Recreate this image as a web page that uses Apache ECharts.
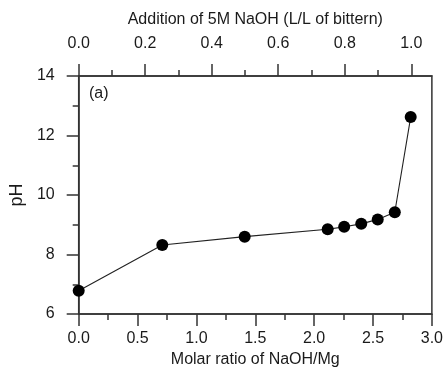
<!DOCTYPE html>
<html>
<head>
<meta charset="utf-8">
<script src="https://cdn.jsdelivr.net/npm/echarts@6/dist/echarts.min.js"></script>
<style>
html,body{margin:0;padding:0;background:#fff;}
#chart{width:446px;height:376px;}
</style>
</head>
<body>
<div id="chart"></div>
<script>
// Data
var molarRatio = [0.0, 0.71, 1.41, 2.115, 2.255, 2.40, 2.54, 2.685, 2.82];
var phValues   = [6.78, 8.32, 8.60, 8.85, 8.93, 9.03, 9.18, 9.42, 12.62];
var topMajorTicks = [0.0, 0.2, 0.4, 0.6, 0.8, 1.0];
var topMinorTicks = [0.1, 0.3, 0.5, 0.7, 0.9];
var topAxisMax = 1.062;

var points = molarRatio.map(function (x, i) { return [x, phValues[i]]; });

var textColor = '#1a1a1a';
var axisColor = '#333';
var font = 'Liberation Sans, Arial, sans-serif';

var chart = echarts.init(document.getElementById('chart'), null, {renderer: 'canvas'});
chart.setOption({
  animation: false,
  backgroundColor: '#fff',
  title: {
    text: '(a)', left: 84, top: 81,
    textStyle: {fontSize: 16, fontWeight: 'normal', color: textColor, fontFamily: font}
  },
  grid: {
    left: 78, right: 13, top: 76, bottom: 62,
    show: true, borderColor: axisColor, borderWidth: 1.5, backgroundColor: 'transparent'
  },
  xAxis: [
    {
      type: 'value', position: 'bottom', min: 0, max: 3, interval: 0.5,
      name: 'Molar ratio of NaOH/Mg', nameLocation: 'middle', nameGap: 30,
      nameTextStyle: {fontSize: 16, color: textColor, fontFamily: font},
      axisLine: {show: true, lineStyle: {color: axisColor, width: 1.5}},
      axisTick: {show: true, length: 12, lineStyle: {color: axisColor, width: 1.5}},
      minorTick: {show: true, splitNumber: 2, length: 6, lineStyle: {color: axisColor, width: 1.5}},
      axisLabel: {margin: 17, fontSize: 16, color: textColor, fontFamily: font,
        formatter: function (v) { return v.toFixed(1); }},
      splitLine: {show: false}
    },
    {
      type: 'value', position: 'top', min: 0, max: topAxisMax,
      name: 'Addition of 5M NaOH (L/L of bittern)', nameLocation: 'middle', nameGap: 48,
      nameTextStyle: {fontSize: 16, color: textColor, fontFamily: font},
      axisLine: {show: true, lineStyle: {color: axisColor, width: 1.5}},
      axisTick: {show: true, length: 12, customValues: topMajorTicks, lineStyle: {color: axisColor, width: 1.5}},
      axisLabel: {margin: 24, fontSize: 16, color: textColor, fontFamily: font, customValues: topMajorTicks,
        formatter: function (v) { return Number(v).toFixed(1); }},
      splitLine: {show: false}
    },
    {
      type: 'value', position: 'top', min: 0, max: topAxisMax, offset: 0,
      axisLine: {show: false},
      axisTick: {show: true, length: 6, customValues: topMinorTicks, lineStyle: {color: axisColor, width: 1.5}},
      axisLabel: {show: false},
      splitLine: {show: false}
    }
  ],
  yAxis: [
    {
      type: 'value', min: 6, max: 14, interval: 2,
      name: 'pH', nameLocation: 'middle', nameGap: 52, nameRotate: 90,
      nameTextStyle: {fontSize: 18, color: textColor, fontFamily: font},
      axisLine: {show: true, lineStyle: {color: axisColor, width: 1.5}},
      axisTick: {show: true, length: 12, lineStyle: {color: axisColor, width: 1.5}},
      minorTick: {show: true, splitNumber: 2, length: 6, lineStyle: {color: axisColor, width: 1.5}},
      axisLabel: {margin: 24, fontSize: 16, color: textColor, fontFamily: font},
      splitLine: {show: false}
    }
  ],
  series: [{
    type: 'line',
    xAxisIndex: 0, yAxisIndex: 0,
    data: points,
    symbol: 'circle', symbolSize: 12,
    itemStyle: {color: '#000'},
    lineStyle: {color: '#222', width: 1.1},
    z: 5
  }]
});
</script>
</body>
</html>
